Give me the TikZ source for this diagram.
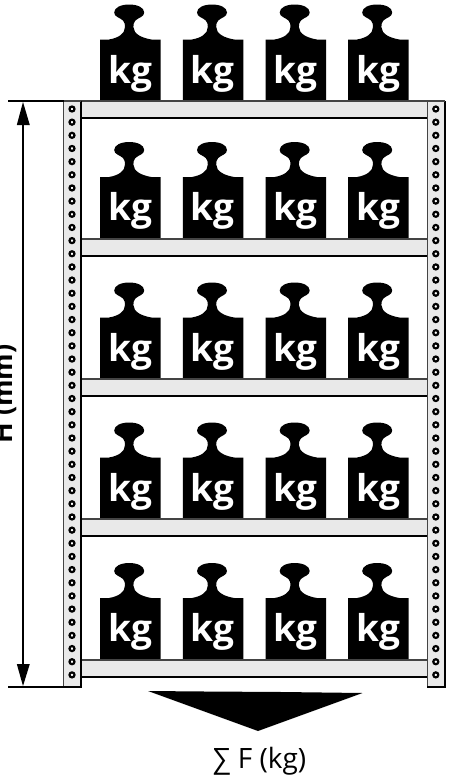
\documentclass[tikz,border=0pt]{standalone}
\usepackage{fontspec}
\setmainfont{Open Sans}
\tikzset{
  x=1pt,y=-1pt,
  wlabel/.style={text=white,font=\fontsize{37}{37}\selectfont\bfseries,inner sep=0pt,anchor=base},
  rim/.style={line width=1.3pt,draw=rimgray},
  edge/.style={line width=1.8pt,draw=black},
  dimline/.style={line width=1.8pt,draw=black},
  hole/.style={circle,draw=black,fill=white,line width=2.2pt,minimum size=5pt,inner sep=0pt},
}
\definecolor{shelfgray}{HTML}{E9E9E9}
\definecolor{rimgray}{HTML}{444444}
\newcommand{\weightat}[3]{% x-left, y-bottom, name
  \begin{scope}[shift={(#1,#2)}]
    \fill[black] (0,0) -- (0,-61.5) -- (9,-61.5)
      .. controls (18,-63) and (25,-67) .. (25,-74)
      .. controls (25,-76.5) and (24.8,-78.5) .. (23,-80.5)
      .. controls (20,-83.5) and (14.2,-84) .. (14.2,-88.5)
      .. controls (14.2,-93.5) and (21,-96.5) .. (29.2,-96.5)
      .. controls (37.4,-96.5) and (44.2,-93.5) .. (44.2,-88.5)
      .. controls (44.2,-84) and (38.4,-83.5) .. (35.4,-80.5)
      .. controls (33.6,-78.5) and (33.4,-76.5) .. (33.4,-74)
      .. controls (33.4,-67) and (42,-63) .. (51.5,-61.5)
      -- (60.5,-61.5) -- (60.5,0) -- cycle;
    \node[wlabel] (#3) at (30,-18) {kg};
  \end{scope}
}
\begin{document}
\begin{tikzpicture}
\useasboundingbox (0,0) rectangle (450,780);
% weights
\foreach \yb [count=\r] in {101,238.5,379,519,659.5}
  \foreach \xl [count=\c] in {100,182.8,265.5,348}
    {\weightat{\xl}{\yb}{w\r\c}}
% shelves
\foreach \yt [count=\r] in {101,239,379,519,660}{
  \fill[shelfgray] (81,\yt) rectangle (427,\yt+17);
  \draw[rim] (81,\yt) -- (427,\yt);
  \draw[edge] (81,\yt+17.3) -- (427,\yt+17.3);
}
% posts
\foreach \xl/\n in {63.5/L,427.3/R}{
  \fill[shelfgray] (\xl,101) rectangle (\xl+17.5,687);
  \draw[rim] (\xl,101) -- (\xl,687);
  \draw[edge] (\xl+17.5,101) -- (\xl+17.5,687.5);
  \draw[edge] (\xl,687) -- (\xl+17.5,687);
  \draw[rim] (\xl,101) -- (\xl+17.5,101);
  \foreach \i in {0,...,43}
    \node[hole] (h\n\i) at (\xl+8.5,109+\i*13.16) {};
}
% dimension
\coordinate (dimtopL) at (8,101);
\coordinate (dimtopR) at (64,101);
\coordinate (dimbotL) at (8,686.8);
\coordinate (dimbotR) at (64,686.8);
\coordinate (dimA) at (23,102);
\coordinate (dimB) at (23,686);
\coordinate (dimA2) at (23,122);
\coordinate (dimB2) at (23,666);
\draw[dimline] (dimtopL) -- (dimtopR);
\draw[dimline] (dimbotL) -- (dimbotR);
\draw[dimline] (dimA2) -- (dimB2);
\fill[black] (dimA) -- (29.8,125) -- (16.8,125) -- cycle;
\fill[black] (dimB) -- (29.8,664) -- (16.8,664) -- cycle;
\node[rotate=90,font=\fontsize{27}{27}\selectfont\bfseries,inner sep=0pt,anchor=base] (hlabel) at (12.7,394) {H (mm)};
% resultant
\fill[black] (148,691) -- (205,691.5) -- (282,692) -- (362.5,693) -- (258,731) -- cycle;
\node[font=\fontsize{28}{28}\selectfont,inner sep=0pt,anchor=base] (flabel) at (259.5,768) {∑ F (kg)};
\end{tikzpicture}
\end{document}
